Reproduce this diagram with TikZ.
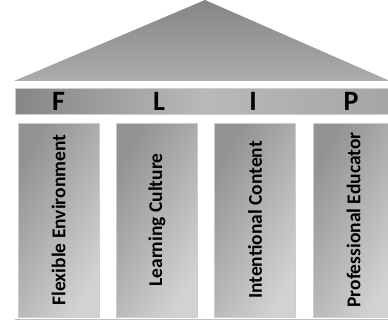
\documentclass[tikz,border=0pt]{standalone}
\usepackage{fontspec}
\setmainfont{Carlito}
\begin{document}
\begin{tikzpicture}[x=1pt, y=1pt, thick,
  pillar/.style={draw=gray!40, line width=0.6pt, minimum width=81pt, minimum height=194pt,
    inner sep=0pt, shading=axis, left color=gray!85, right color=gray!35, shading angle=60},
  pillartext/.style={rotate=90, font=\fontsize{19.5}{19.5}\selectfont\bfseries},
  letter/.style={font=\fontsize{28}{28}\selectfont\bfseries, inner sep=0pt}]

\useasboundingbox (0,0) rectangle (388,322);

% ============================
% Roof
% ============================
\coordinate (roofL) at (14,241);
\coordinate (roofR) at (390,241);
\coordinate (apex)  at (205,322);
\shade[top color=gray!95, bottom color=gray!65] (roofL) -- (apex) -- (roofR) -- cycle;

% ============================
% Beam with the letters
% ============================
\node[draw=gray!40, line width=0.4pt, minimum width=376pt, minimum height=26pt, inner sep=0pt,
      left color=gray!95, right color=gray!70, middle color=gray!55] (beam) at (203,221) {};

\node[letter] (F) at (58.5,221) {F};
\node[letter] (L) at (159,221)  {L};
\node[letter] (I) at (253,221)  {I};
\node[letter] (P) at (351,221)  {P};

% ============================
% Pillars
% ============================
\node[pillar] (flex)   at (58.5,102) {};
\node[pillar] (learn)  at (157,102)  {};
\node[pillar] (intent) at (255,102)  {};
\node[pillar] (prof)   at (353.5,102) {};

\node[pillartext] at (flex)   {Flexible Environment};
\node[pillartext] at (learn)  {Learning Culture};
\node[pillartext] at (intent) {Intentional Content};
\node[pillartext] at (prof)   {Professional Educator};

% Base line
\coordinate (baseL) at (15,3);
\coordinate (baseR) at (390,3);
\draw[gray!50, line width=0.8pt] (baseL) -- (baseR);

\end{tikzpicture}
\end{document}
